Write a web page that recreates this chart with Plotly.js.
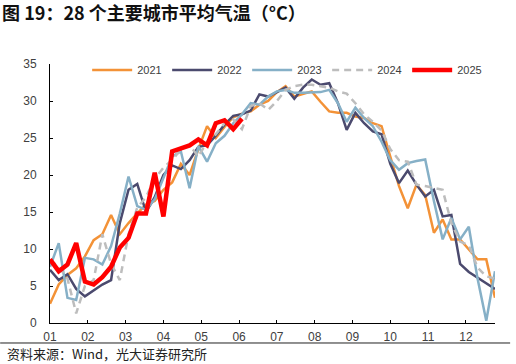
<!DOCTYPE html>
<html>
<head>
<meta charset="utf-8">
<script src="https://cdn.plot.ly/plotly-3.0.1.min.js"></script>
<style>html,body{margin:0;padding:0;background:#fff}#chart{width:516px;height:364px}</style>
</head>
<body>
<div id="chart"></div>
<script>
// Weekly average temperature of 28 major cities (°C), week index 0..51
const monthLabels = ["01","02","03","04","05","06","07","08","09","10","11","12"];
const weeksPerYear = 52;

const y2021 = [2.6, 5.2, 6.5, 7.4, 9.0, 11.2, 12.0, 14.6, 12.0, 13.5, 14.8, 16.0, 16.5, 18.0, 19.0, 21.5, 20.0, 23.5, 26.6, 25.0, 26.5, 27.8, 28.3, 28.6, 29.5, 30.0, 31.2, 32.0, 30.6, 30.9, 31.3, 29.9, 28.6, 28.4, 28.4, 27.9, 27.7, 27.0, 26.6, 22.5, 18.5, 15.5, 18.7, 17.3, 12.2, 14.0, 11.3, 11.3, 10.0, 8.6, 8.6, 3.4];
const y2022 = [7.2, 5.8, 6.6, 4.6, 3.6, 4.4, 5.2, 5.8, 13.5, 18.0, 18.8, 15.0, 17.0, 20.0, 21.3, 20.8, 22.0, 23.8, 24.0, 25.3, 26.8, 28.0, 28.2, 28.7, 30.9, 30.6, 31.2, 31.8, 30.3, 31.8, 32.9, 32.2, 32.4, 29.7, 26.1, 28.4, 27.0, 25.9, 25.5, 21.5, 18.9, 20.6, 18.7, 17.1, 18.0, 14.4, 14.6, 8.0, 6.9, 6.1, 5.4, 4.6];
const y2023 = [7.6, 10.8, 3.4, 3.1, 8.8, 8.6, 7.9, 10.4, 14.8, 19.8, 15.8, 15.3, 16.7, 19.5, 22.5, 23.2, 18.2, 23.9, 21.8, 24.3, 25.3, 27.0, 28.2, 29.7, 29.5, 30.6, 31.3, 31.5, 31.1, 31.1, 31.1, 31.2, 31.5, 29.7, 27.2, 29.1, 27.7, 26.6, 24.5, 22.0, 20.7, 21.6, 21.9, 22.1, 16.5, 11.3, 14.2, 11.3, 13.0, 6.0, 0.3, 7.0];
const y2024 = [8.5, 7.6, 6.0, 1.3, 5.0, 5.8, 12.0, 8.0, 5.8, 12.0, 15.6, 17.0, 19.5, 21.0, 22.0, 23.5, 24.0, 22.5, 24.5, 25.5, 27.0, 27.5, 26.2, 29.3, 29.7, 28.8, 30.0, 31.5, 32.0, 32.2, 32.2, 32.0, 31.8, 31.3, 31.0, 29.7, 28.2, 27.2, 26.0, 23.5, 22.0, 21.8, 18.7, 18.5, 18.2, 18.0, 13.5, 11.0, 10.5, 7.5, 6.3, 6.0];
const y2025 = [8.6, 7.0, 7.9, 10.8, 5.6, 5.2, 6.2, 7.6, 10.2, 11.5, 14.8, 14.8, 20.3, 14.4, 23.2, 23.6, 24.0, 24.8, 24.0, 27.0, 27.4, 26.2, 27.6];

const idx = arr => arr.map((_, i) => i);
const monthTicks = monthLabels.map((_, m) => m * weeksPerYear / 12);

const series = [
  {name: "2021", y: y2021, color: "#F39237", width: 2.5, dash: "solid"},
  {name: "2022", y: y2022, color: "#4B4A6E", width: 2.5, dash: "solid"},
  {name: "2023", y: y2023, color: "#86B0C7", width: 2.5, dash: "solid"},
  {name: "2024", y: y2024, color: "#BDBDBD", width: 2.5, dash: "7px,5px"},
  {name: "2025", y: y2025, color: "#FF0000", width: 4.5, dash: "solid"}
];

const traces = series.map(s => ({
  type: "scatter", mode: "lines", name: s.name,
  x: idx(s.y), y: s.y,
  line: {color: s.color, width: s.width, dash: s.dash},
  hoverinfo: "skip"
}));

const axisFont = {family: "Liberation Sans, Arial, sans-serif", size: 12, color: "#404040"};

const layout = {
  width: 516, height: 364,
  margin: {l: 50, r: 21, t: 64, b: 41, pad: 0},
  paper_bgcolor: "#fff", plot_bgcolor: "#fff",
  showlegend: true,
  title: {
    text: "<b>图 19：28 个主要城市平均气温（°C）</b>",
    font: {family: "Noto Sans CJK SC", size: 18, color: "#111"},
    x: 0.004, xref: "container", xanchor: "left",
    y: 0.962, yref: "container", yanchor: "middle"
  },
  xaxis: {
    range: [0, weeksPerYear - 1],
    tickmode: "array", tickvals: monthTicks, ticktext: monthLabels,
    ticks: "inside", ticklen: 3, tickcolor: "#000", tickwidth: 1,
    showline: true, linecolor: "#000", linewidth: 1,
    showgrid: false, zeroline: false,
    tickfont: axisFont, ticklabelstandoff: 3
  },
  yaxis: {
    range: [0, 35], dtick: 5, tick0: 0,
    ticks: "inside", ticklen: 3, tickcolor: "#000", tickwidth: 1,
    showline: true, linecolor: "#000", linewidth: 1,
    showgrid: false, zeroline: false,
    tickfont: axisFont, ticklabelstandoff: 10
  },
  legend: {
    orientation: "h",
    x: 0.0835, xanchor: "left",
    y: 0.977, yanchor: "middle",
    font: {family: "Liberation Sans, Arial, sans-serif", size: 11, color: "#404040"},
    bgcolor: "rgba(0,0,0,0)",
    entrywidth: 25, entrywidthmode: "pixels",
    itemwidth: 40, tracegroupgap: 0
  },
  shapes: [{
    type: "line", xref: "paper", yref: "paper",
    x0: -0.112, x1: 1.034, y0: -0.0772, y1: -0.0772,
    line: {color: "#222", width: 1}
  }],
  annotations: [{
    text: "资料来源：Wind，光大证券研究所",
    xref: "paper", yref: "paper", x: -0.101, y: -0.116,
    xanchor: "left", yanchor: "middle", showarrow: false,
    font: {family: "Noto Sans CJK SC", size: 13, color: "#222"}
  }]
};

Plotly.newPlot("chart", traces, layout, {displayModeBar: false, staticPlot: true});
</script>
</body>
</html>
